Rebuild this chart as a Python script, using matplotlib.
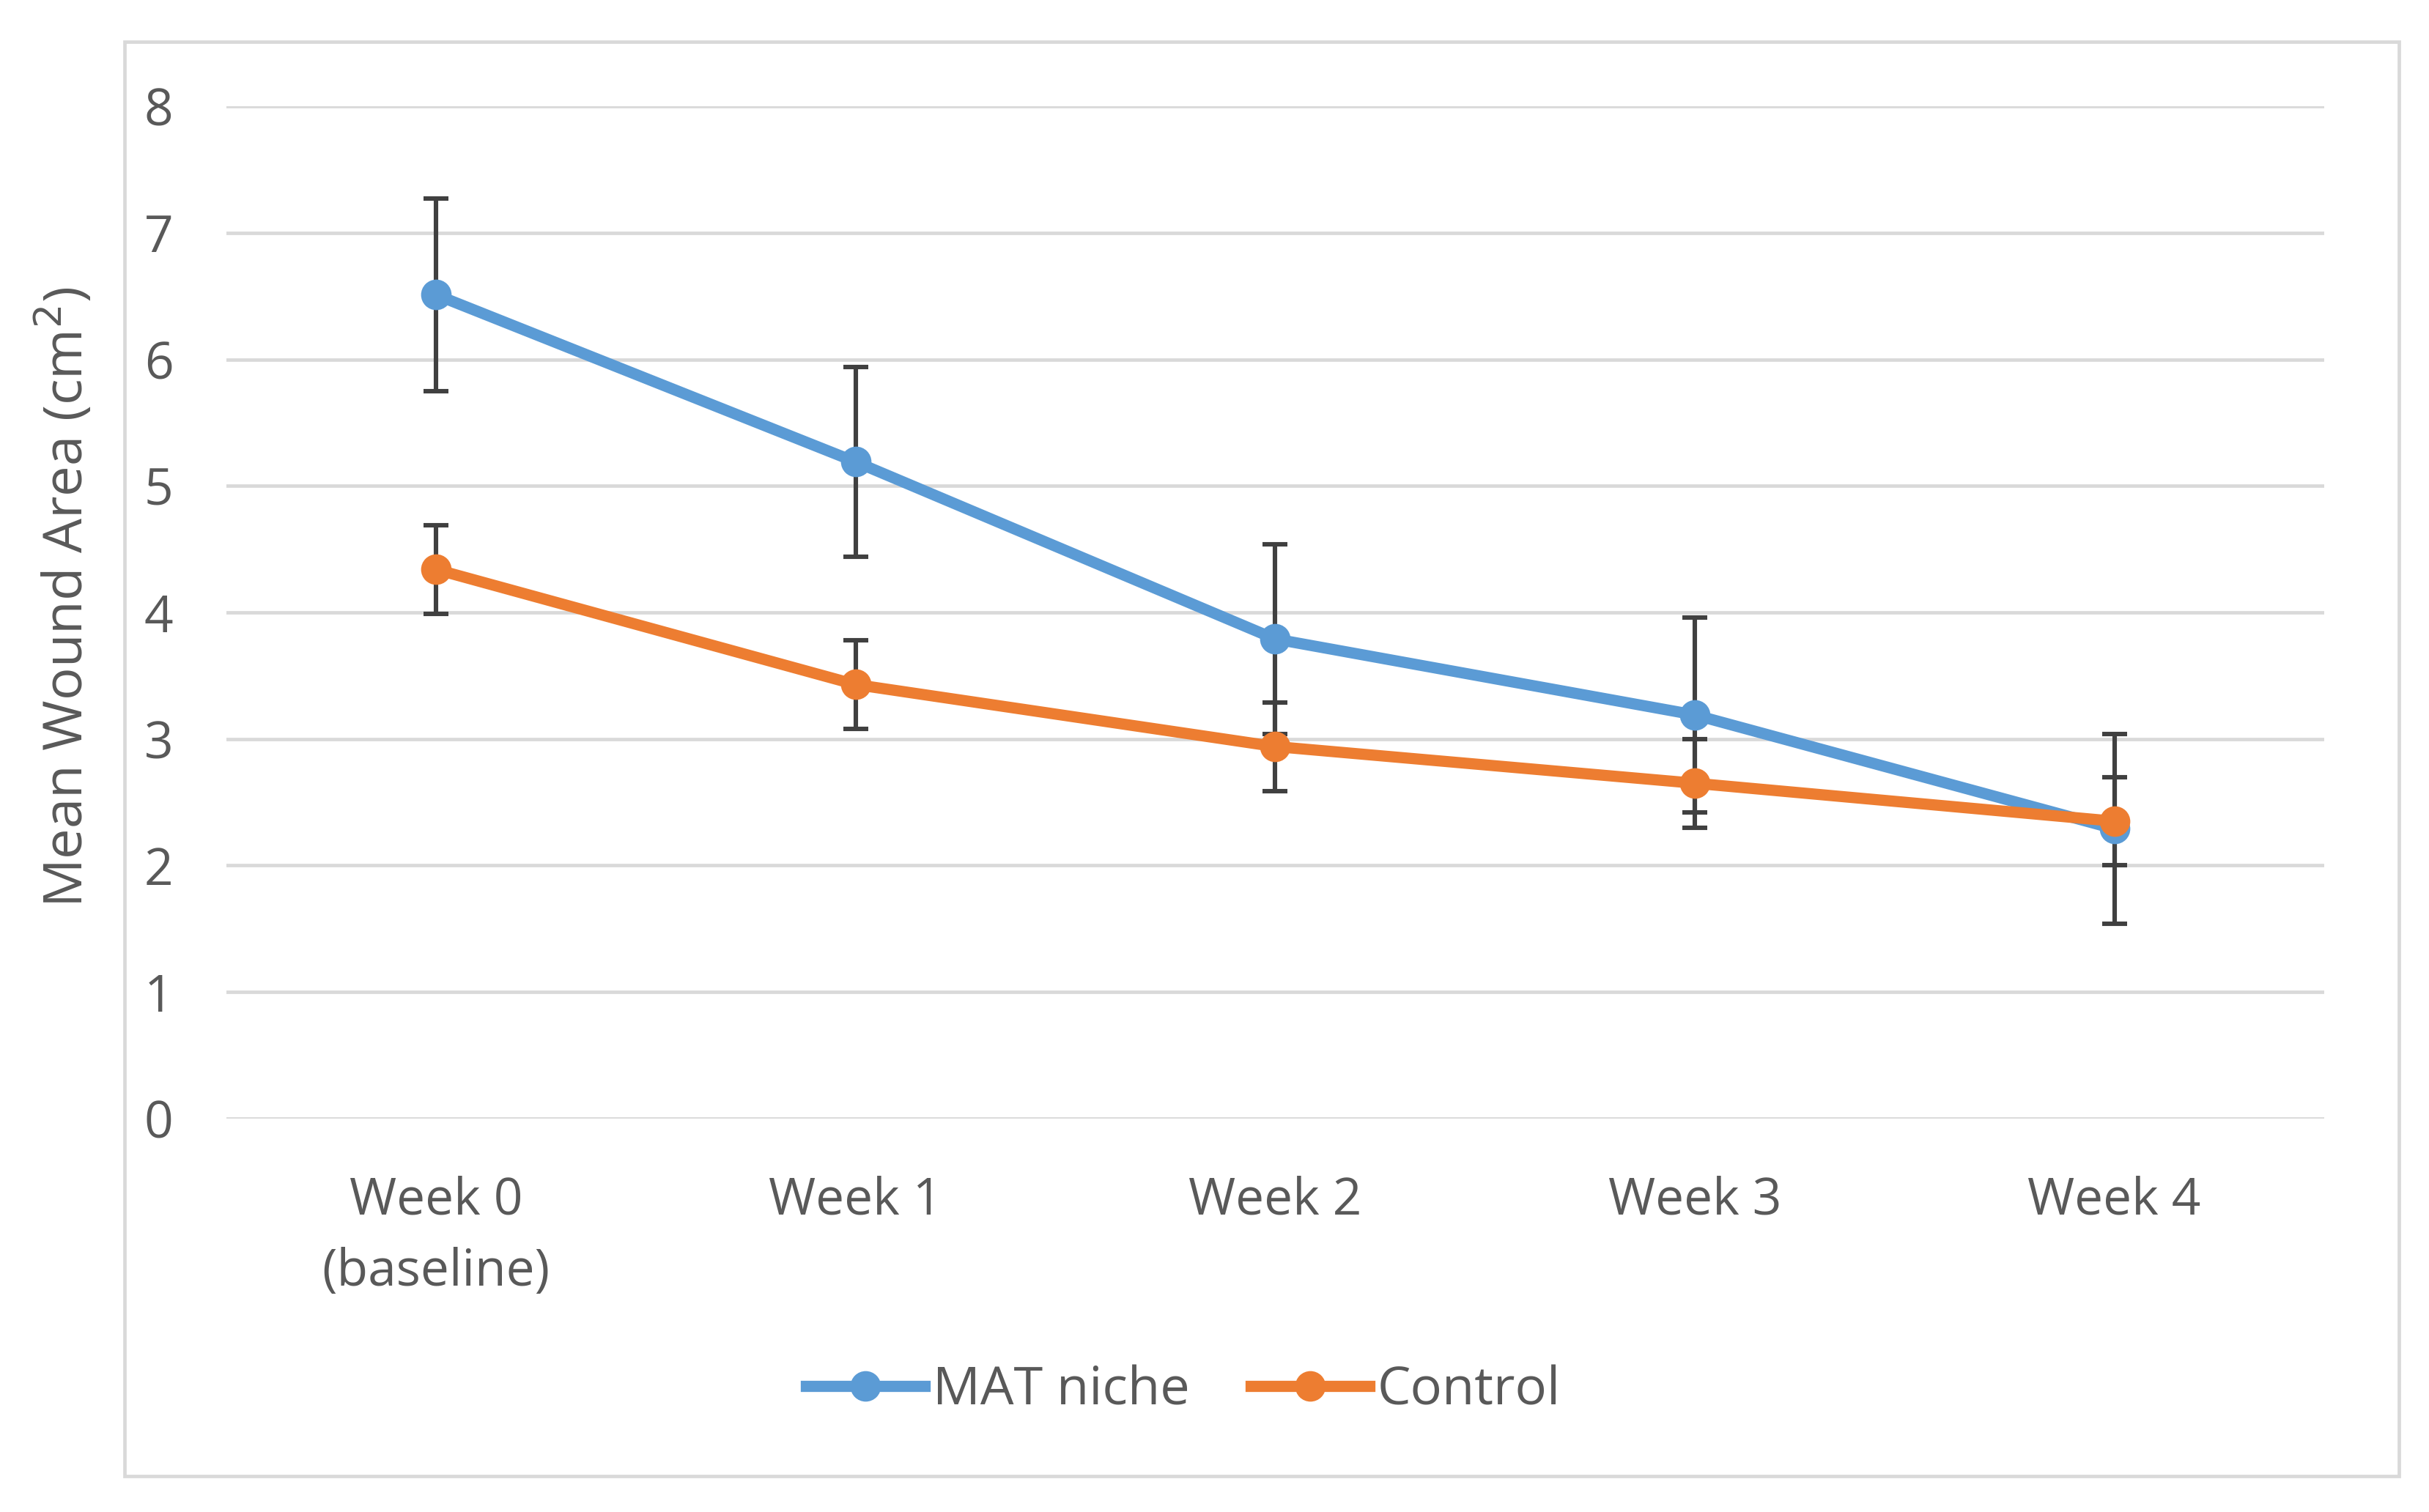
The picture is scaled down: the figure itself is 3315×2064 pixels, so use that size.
import numpy as np
import matplotlib.pyplot as plt
from matplotlib.patches import Rectangle

# Chart values
weeks = ["Week 0\n(baseline)", "Week 1", "Week 2", "Week 3", "Week 4"]
mat_mean = [6.51, 5.19, 3.79, 3.19, 2.29]
mat_err = [0.76, 0.75, 0.75, 0.77, 0.75]
control_mean = [4.34, 3.43, 2.94, 2.65, 2.35]
control_err = [0.35, 0.35, 0.35, 0.35, 0.35]
y_ticks = [0, 1, 2, 3, 4, 5, 6, 7, 8]

plt.rcParams['font.family'] = ['Open Sans', 'DejaVu Sans']
text_color = "#595959"
grid_color = "#d9d9d9"

fig = plt.figure(figsize=(16.58, 10.32), dpi=200)
ax = fig.add_axes([0.0931, 0.2602, 0.8635, 0.6695])

x = np.arange(len(weeks))

# Error bars first, lines drawn above
ax.errorbar(x, mat_mean, yerr=mat_err, fmt='none', ecolor="#404040",
            elinewidth=2.2, capsize=6, capthick=2.2, zorder=3)
ax.errorbar(x, control_mean, yerr=control_err, fmt='none', ecolor="#404040",
            elinewidth=2.2, capsize=6, capthick=2.2, zorder=3)
ax.plot(x, mat_mean, color="#5B9BD5", linewidth=5.5, marker='o', markersize=14,
        label="MAT niche", zorder=4)
ax.plot(x, control_mean, color="#ED7D31", linewidth=5.5, marker='o', markersize=14,
        label="Control", zorder=5)

ax.set_xlim(-0.5, len(weeks) - 0.5)
ax.set_ylim(0, 8)
ax.set_yticks(y_ticks)
ax.set_xticks(x)
ax.set_xticklabels(weeks, linespacing=1.52)

ax.grid(axis='y', color=grid_color, linewidth=1.7)
ax.set_axisbelow(True)
for side in ["top", "right", "left", "bottom"]:
    ax.spines[side].set_visible(False)
ax.tick_params(axis='both', length=0, labelsize=25, labelcolor=text_color)
ax.tick_params(axis='x', pad=28)
ax.tick_params(axis='y', pad=26)

fig.text(0.027, 0.605, "Mean Wound Area (cm$^2$)", rotation=90, ha='center',
         va='center', fontsize=26.8, color=text_color)

leg = fig.legend(loc='center', bbox_to_anchor=(0.487, 0.080), ncol=2, frameon=False,
                 fontsize=26, handlelength=2.24, handletextpad=0.15, columnspacing=1.15)
for t in leg.get_texts():
    t.set_color(text_color)

# Light chart frame like the spreadsheet chart area
fig.patches.append(Rectangle((170 / 3316, 1 - 2015 / 2064), (3274 - 170) / 3316,
                             (2015 - 57) / 2064, transform=fig.transFigure,
                             fill=False, edgecolor=grid_color, linewidth=1.7))

fig.savefig("out.png", dpi=200, facecolor="white")
